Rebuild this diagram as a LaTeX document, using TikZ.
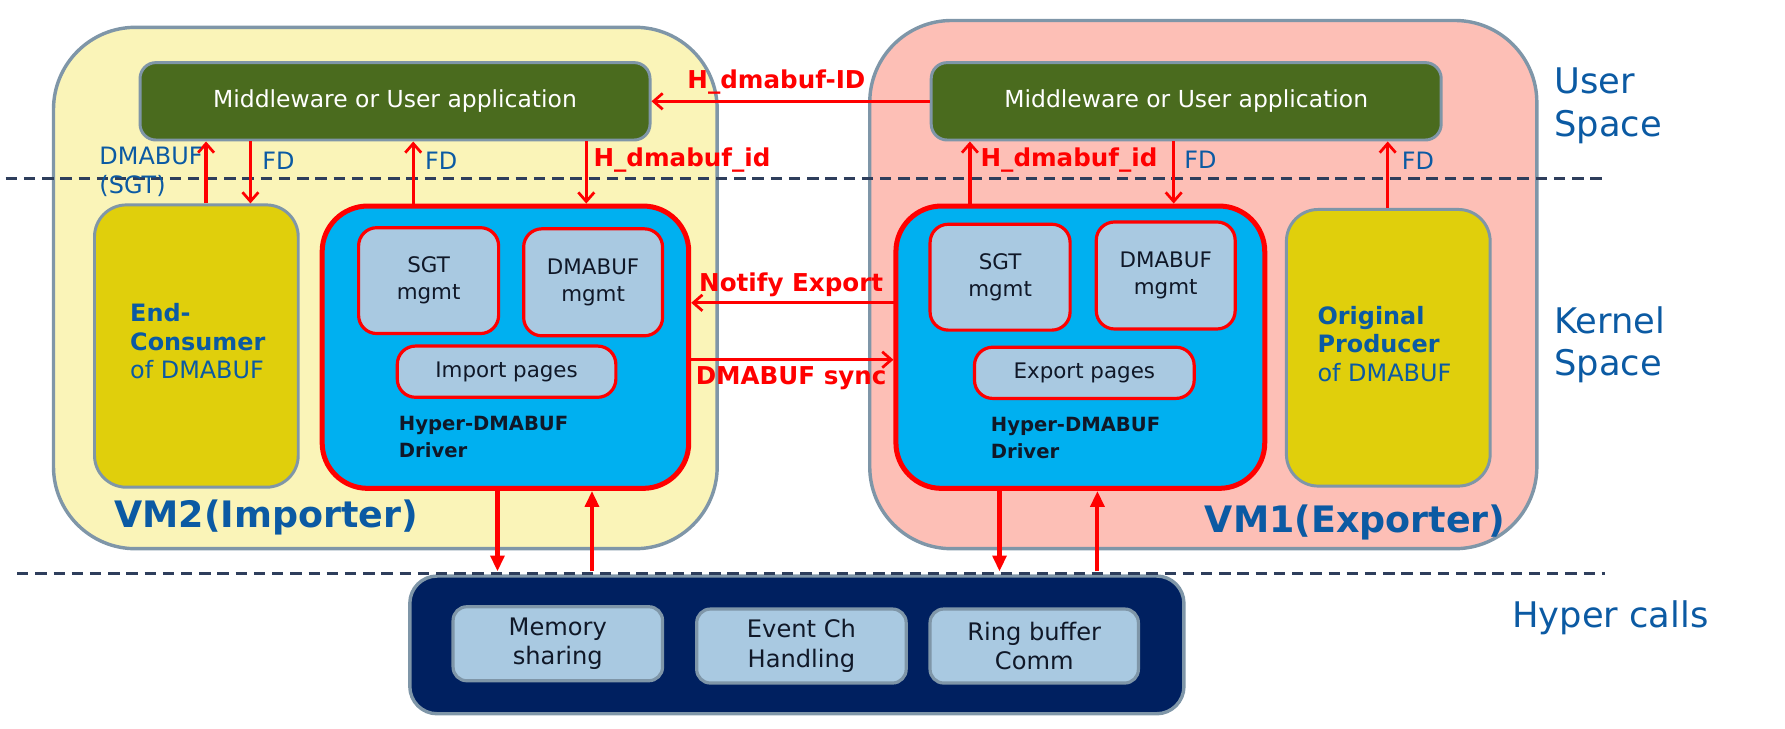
\documentclass[tikz,border=0pt]{standalone}
\usepackage{fontspec}
\setmainfont{DejaVu Sans}
\usetikzlibrary{arrows.meta,fit}
\definecolor{vmyel}{HTML}{FAF4B8}
\definecolor{vmpink}{HTML}{FDBFB6}
\definecolor{bord}{HTML}{7F96A8}
\definecolor{mwgreen}{HTML}{4A6B1E}
\definecolor{yelbox}{HTML}{E0CF0C}
\definecolor{drvblue}{HTML}{00B0F0}
\definecolor{ltblue}{HTML}{A9C9E1}
\definecolor{navy}{HTML}{002060}
\definecolor{txtblue}{HTML}{0B5AA3}
\definecolor{dashc}{HTML}{2E3E5C}
\definecolor{txtdark}{HTML}{101828}
\tikzset{
  vm/.style={draw=bord, line width=1.5pt, rounded corners=36pt, inner sep=0pt},
  mw/.style={draw=bord, fill=mwgreen, line width=1.3pt, rounded corners=7pt, inner sep=0pt},
  mwt/.style={text=white, font=\fontsize{10.3}{12}\selectfont, inner sep=0pt},
  yel/.style={draw=bord, fill=yelbox, line width=1.3pt, rounded corners=14pt, inner sep=0pt},
  drv/.style={draw=red, fill=drvblue, line width=2.2pt, rounded corners=20pt, inner sep=0pt},
  sub/.style={draw=red, fill=ltblue, line width=1.4pt, rounded corners=8pt, inner sep=0pt},
  subt/.style={align=center, text=txtdark, font=\fontsize{9.4}{12}\selectfont, inner sep=0pt},
  hsub/.style={draw=bord, fill=ltblue, line width=1.4pt, rounded corners=6pt, inner sep=0pt},
  hsubt/.style={align=center, text=txtdark, font=\fontsize{10.6}{13}\selectfont, inner sep=0pt},
  arr/.style={draw=red, line width=1.4pt, -{Straight Barb[length=4pt,width=7pt,line width=1.2pt]}},
  barr/.style={draw=red, line width=1.8pt, -{Triangle[length=7pt,width=6pt]}},
  dashln/.style={draw=dashc, line width=1.5pt, dash pattern=on 5pt off 3pt},
  bluelab/.style={text=txtblue, font=\fontsize{10.5}{13}\selectfont, inner sep=0pt},
  redlab/.style={text=red, font=\fontsize{10.8}{12}\selectfont\bfseries, inner sep=0pt},
  side/.style={text=txtblue, font=\fontsize{15.5}{18.5}\selectfont, align=left, inner sep=0pt, anchor=west},
  vmlab/.style={text=txtblue, font=\fontsize{16}{19}\selectfont\bfseries, inner sep=0pt},
  ylab/.style={anchor=west, align=left, inner sep=0pt, font=\fontsize{10.5}{12.5}\selectfont, text=txtblue},
  dlab/.style={anchor=west, align=left, inner sep=0pt, font=\fontsize{8.6}{12}\selectfont\bfseries, text=txtdark},
}
\begin{document}
\begin{tikzpicture}[x=0.5pt,y=-0.5pt]
\useasboundingbox (0,0) rectangle (1568,640);
% VMs
\node[vm, fill=vmyel, fit={(47,24) (630,482)}] (vm2) {};
\node[vm, fill=vmpink, fit={(764,18) (1350,482)}] (vm1) {};
% dashed separators
\coordinate (d1a) at (5,157); \coordinate (d1b) at (1410,157);
\coordinate (d2a) at (15,504); \coordinate (d2b) at (1410,504);
\draw[dashln] (d1a) -- (d1b);
% middleware
\node[mw, fit={(123,55) (571,123)}] (mwL) {};
\node[mwt] (mwLt) at (mwL.center) {Middleware or User application};
\node[mw, fit={(818,55) (1266,123)}] (mwR) {};
\node[mwt] (mwRt) at (mwR.center) {Middleware or User application};
% yellow boxes
\node[yel, fit={(83,180) (262,428)}] (ec) {};
\node[yel, fit={(1130,184) (1309,427)}] (op) {};
\node[ylab] (ect) at (114,300) {\textbf{End-}\\\textbf{Consumer}\\of DMABUF};
\node[ylab] (opt) at (1157,302) {\textbf{Original}\\\textbf{Producer}\\of DMABUF};
% drivers
\node[drv, fit={(283,181) (605,429)}] (drvL) {};
\node[drv, fit={(787,181) (1111,429)}] (drvR) {};
\node[sub, fit={(315,200) (438,293)}] (sgtL) {};
\node[subt] (sgtLt) at (sgtL.center) {SGT\\mgmt};
\node[sub, fit={(460,201) (582,295)}] (dmaL) {};
\node[subt] (dmaLt) at (dmaL.center) {DMABUF\\mgmt};
\node[sub, fit={(349,304) (541,349)}] (impL) {};
\node[subt] (impLt) at (impL.center) {Import pages};
\node[sub, fit={(817,197) (940,290)}] (sgtR) {};
\node[subt] (sgtRt) at (sgtR.center) {SGT\\mgmt};
\node[sub, fit={(963,195) (1085,289)}] (dmaR) {};
\node[subt] (dmaRt) at (dmaR.center) {DMABUF\\mgmt};
\node[sub, fit={(856,305) (1049,350)}] (expR) {};
\node[subt] (expRt) at (expR.center) {Export pages};
\node[dlab] (drvLt) at (350,384) {Hyper-DMABUF\\Driver};
\node[dlab] (drvRt) at (870,385) {Hyper-DMABUF\\Driver};
% VM labels
\node[vmlab, anchor=west] (vm2lab) at (100,455) {VM2(Importer)};
\node[vmlab, anchor=west] (vm1lab) at (1058,459) {VM1(Exporter)};
% hyper calls
\node[draw=bord, fill=navy, line width=1.5pt, rounded corners=12pt, inner sep=0pt, fit={(360,506) (1040,627)}] (hc) {};
\draw[dashln] (d2a) -- (d2b);
\node[hsub, fit={(398,533) (582,598)}] (mem) {};
\node[hsubt] (memt) at (mem.center) {Memory\\sharing};
\node[hsub, fit={(612,535) (796,600)}] (evt) {};
\node[hsubt] (evtt) at (evt.center) {Event Ch\\Handling};
\node[hsub, fit={(817,535) (1000,600)}] (ring) {};
\node[hsubt] (ringt) at (ring.center) {Ring buffer\\Comm};
% side labels
\node[side] (us) at (1365,93) {User\\Space};
\node[side] (ks) at (1365,303) {Kernel\\Space};
\node[side] (hcl) at (1328,543) {Hyper calls};
% x positions
\coordinate (xa) at (181,0); \coordinate (xb) at (220,0); \coordinate (xc) at (363,0); \coordinate (xd) at (515,0);
\coordinate (xe) at (852,0); \coordinate (xf) at (1031,0); \coordinate (xg) at (1219,0);
\coordinate (xh) at (437,0); \coordinate (xi) at (520,0); \coordinate (xj) at (878,0); \coordinate (xk) at (964,0);
\coordinate (ya) at (0,266); \coordinate (yb) at (0,316); \coordinate (yc) at (0,502);
% top arrows
\draw[arr] (mwR.west) -- (mwR.west -| mwL.east);
\node[redlab] (hid) at (682,72) {H\_dmabuf-ID};
\draw[arr] (ec.north -| xa) -- (mwL.south -| xa);
\draw[arr] (mwL.south -| xb) -- (ec.north -| xb);
\draw[arr] (drvL.north -| xc) -- (mwL.south -| xc);
\draw[arr] (mwL.south -| xd) -- (drvL.north -| xd);
\draw[arr] (drvR.north -| xe) -- (mwR.south -| xe);
\draw[arr] (mwR.south -| xf) -- (drvR.north -| xf);
\draw[arr] (op.north -| xg) -- (mwR.south -| xg);
\node[bluelab, align=left, anchor=west] (sgtlab) at (87,151) {DMABUF\\(SGT)};
\node[bluelab, anchor=west] (fd1) at (230,141) {FD};
\node[bluelab, anchor=west] (fd2) at (373,141) {FD};
\node[redlab, anchor=west] (hid1) at (521,141) {H\_dmabuf\_id};
\node[redlab, anchor=west] (hid2) at (861,141) {H\_dmabuf\_id};
\node[bluelab, anchor=west] (fd3) at (1040,140) {FD};
\node[bluelab, anchor=west] (fd4) at (1231,141) {FD};
% between drivers
\draw[arr] ([xshift=2pt]drvR.west |- ya) -- (drvL.east |- ya);
\draw[arr] (drvL.east |- yb) -- (drvR.west |- yb);
\node[redlab] (ne) at (695,250) {Notify Export};
\node[redlab] (ds) at (695,332) {DMABUF sync};
% bottom arrows
\draw[barr] (drvL.south -| xh) -- (yc -| xh);
\draw[barr] (yc -| xi) -- (drvL.south -| xi);
\draw[barr] (drvR.south -| xj) -- (yc -| xj);
\draw[barr] (yc -| xk) -- (drvR.south -| xk);
\end{tikzpicture}
\end{document}
